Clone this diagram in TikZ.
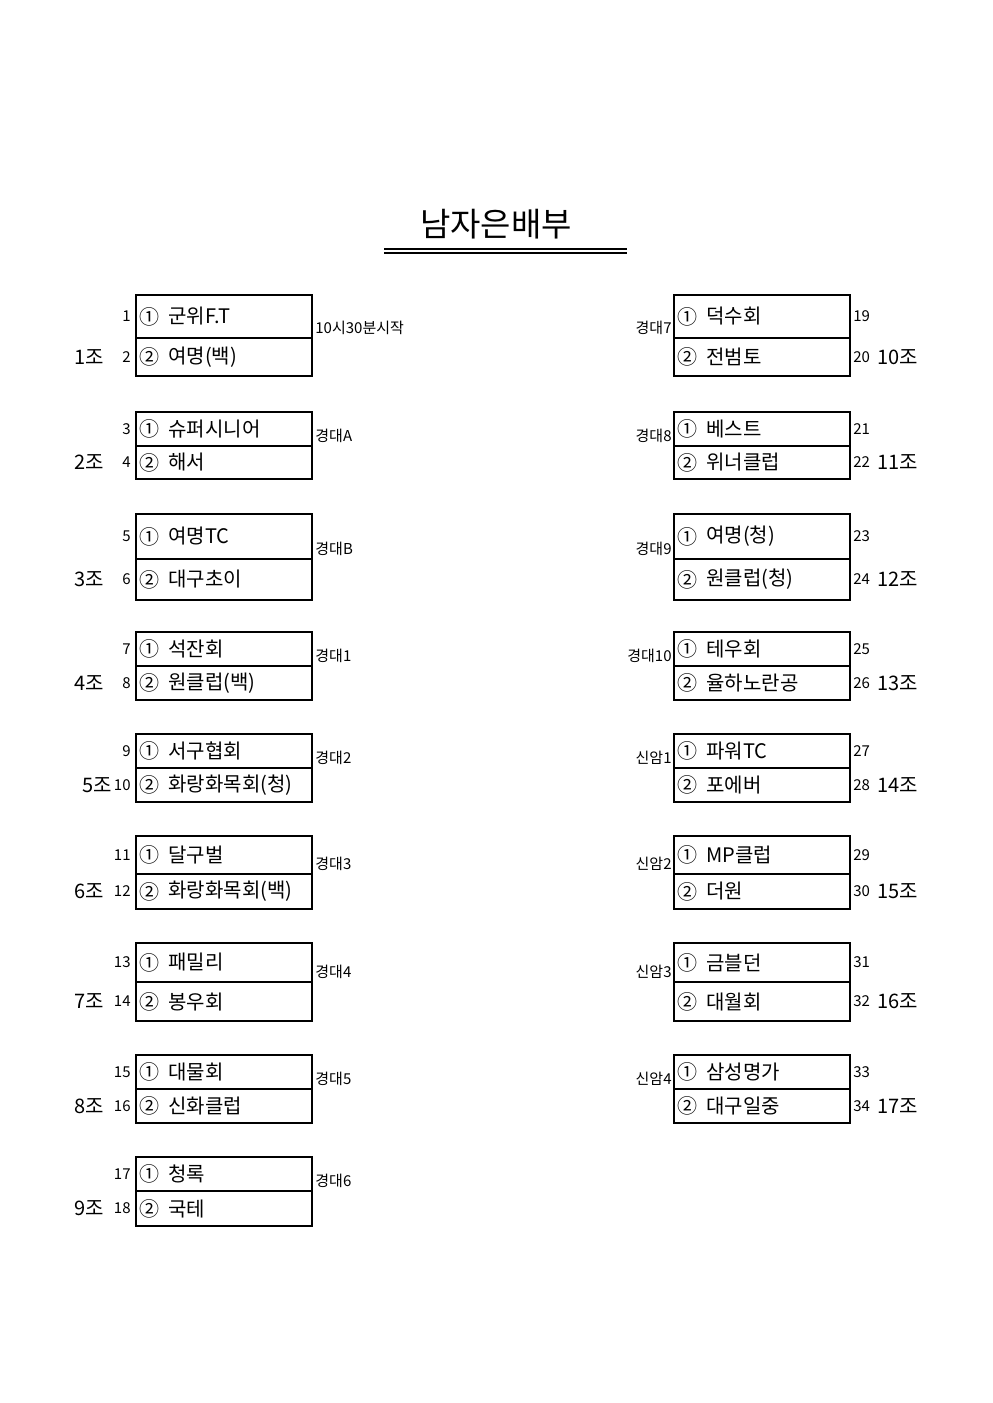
\documentclass[tikz,border=0pt]{standalone}
\usepackage{fontspec}
\setmainfont{Noto Sans CJK KR}
\begin{document}
\tikzset{
  rowbox/.style={draw, line width=1pt, minimum width=88pt, inner sep=0pt, outer sep=0pt},
  team/.style={anchor=west, inner sep=0pt, font=\fontsize{10}{12}\selectfont},
  small/.style={inner sep=0pt, font=\fontsize{7.5}{9}\selectfont},
  jolab/.style={inner sep=0pt, font=\fontsize{10}{12}\selectfont},
  rule/.style={line width=0.6pt},
}
\begin{tikzpicture}[x=0.5pt,y=-0.5pt]
\useasboundingbox (0,0) rectangle (992,1403);
\node[inner sep=0pt, font=\fontsize{16.5}{18}\selectfont] (title) at (496,224) {남자은배부};
\coordinate (ula) at (384,249); \coordinate (ura) at (627,249);
\coordinate (ulb) at (384,253); \coordinate (urb) at (627,253);
\draw[rule] (ula) -- (ura);
\draw[rule] (ulb) -- (urb);
% left column
\foreach \i/\t/\m/\b/\na/\nb/\jo/\jx/\ta/\tb/\gl in {
  1/295/338/376/1/2/1조/104/군위F.T/여명(백)/10시30분시작,
  2/412/446/479/3/4/2조/104/슈퍼시니어/해서/경대A,
  3/514/559/600/5/6/3조/104/여명TC/대구초이/경대B,
  4/632/666/700/7/8/4조/104/석잔회/원클럽(백)/경대1,
  5/734/768/802/9/10/5조/112/서구협회/화랑화목회(청)/경대2,
  6/836/874/909/11/12/6조/104/달구벌/화랑화목회(백)/경대3,
  7/943/982/1021/13/14/7조/104/패밀리/봉우회/경대4,
  8/1055/1089/1123/15/16/8조/104/대물회/신화클럽/경대5,
  9/1157/1191/1226/17/18/9조/104/청록/국테/경대6}
{
  \pgfmathsetmacro\ha{(\m-\t)*0.5}
  \pgfmathsetmacro\hb{(\b-\m)*0.5}
  \pgfmathsetmacro\ya{(\t+\m)/2}
  \pgfmathsetmacro\yb{(\m+\b)/2}
  \pgfmathsetmacro\yg{\m-10}
  \node[rowbox, minimum height=\ha pt] (L\i a) at (224,\ya) {};
  \node[rowbox, minimum height=\hb pt] (L\i b) at (224,\yb) {};
  \node[team] (L\i ca) at (139,\ya) {①};
  \node[team] (L\i cb) at (139,\yb) {②};
  \node[team] (L\i ta) at (168,\ya) {\ta};
  \node[team] (L\i tb) at (168,\yb) {\tb};
  \node[small, anchor=east] (L\i na) at (131,\ya) {\na};
  \node[small, anchor=east] (L\i nb) at (131,\yb) {\nb};
  \node[jolab, anchor=east] (L\i jo) at (\jx,\yb) {\jo};
  \node[small, anchor=west] (L\i g) at (315,\yg) {\gl};
}
% right column
\foreach \i/\t/\m/\b/\na/\nb/\jo/\ta/\tb/\gl in {
  10/295/338/376/19/20/10조/덕수회/전범토/경대7,
  11/412/446/479/21/22/11조/베스트/위너클럽/경대8,
  12/514/559/600/23/24/12조/여명(청)/원클럽(청)/경대9,
  13/632/666/700/25/26/13조/테우회/율하노란공/경대10,
  14/734/768/802/27/28/14조/파워TC/포에버/신암1,
  15/836/874/909/29/30/15조/MP클럽/더원/신암2,
  16/943/982/1021/31/32/16조/금블던/대월회/신암3,
  17/1055/1089/1123/33/34/17조/삼성명가/대구일중/신암4}
{
  \pgfmathsetmacro\ha{(\m-\t)*0.5}
  \pgfmathsetmacro\hb{(\b-\m)*0.5}
  \pgfmathsetmacro\ya{(\t+\m)/2}
  \pgfmathsetmacro\yb{(\m+\b)/2}
  \pgfmathsetmacro\yg{\m-10}
  \node[rowbox, minimum height=\ha pt] (R\i a) at (762,\ya) {};
  \node[rowbox, minimum height=\hb pt] (R\i b) at (762,\yb) {};
  \node[team] (R\i ca) at (677,\ya) {①};
  \node[team] (R\i cb) at (677,\yb) {②};
  \node[team] (R\i ta) at (706,\ya) {\ta};
  \node[team] (R\i tb) at (706,\yb) {\tb};
  \node[small, anchor=west] (R\i na) at (853,\ya) {\na};
  \node[small, anchor=west] (R\i nb) at (853,\yb) {\nb};
  \node[jolab, anchor=west] (R\i jo) at (877,\yb) {\jo};
  \node[small, anchor=east] (R\i g) at (672,\yg) {\gl};
}
\end{tikzpicture}
\end{document}
